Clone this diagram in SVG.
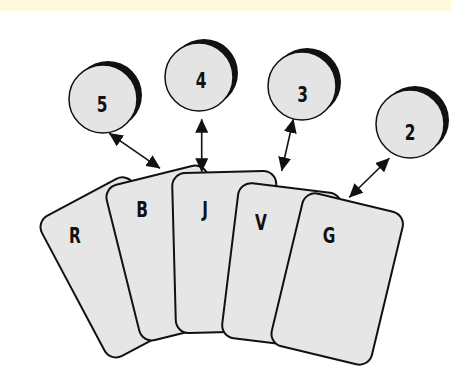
<svg xmlns="http://www.w3.org/2000/svg" width="451" height="390" viewBox="0 0 451 390">
  <defs>
    <style>
      .card { fill: #e6e6e6; stroke: #111; stroke-width: 2; }
      .disc { fill: #e4e4e4; stroke: #111; stroke-width: 1.5; }
      .shade { fill: #111; }
      .lbl { font-family: "DejaVu Sans", "Liberation Sans", sans-serif; font-weight: bold; font-size: 22px; fill: #111; text-anchor: middle; }
      .link { stroke: #111; stroke-width: 1.6; fill: none; marker-start: url(#head); marker-end: url(#head); }
    </style>
    <marker id="head" viewBox="0 0 14 13" refX="13.5" refY="6.5" markerWidth="14" markerHeight="13" markerUnits="userSpaceOnUse" orient="auto-start-reverse">
      <path d="M0,0 L14,6.5 L0,13 Z" fill="#111"/>
    </marker>
  </defs>

  <!-- header band -->
  <rect x="0" y="0" width="451" height="11" fill="#fffadb"/>

  <!-- fanned cards, back to front; labels are narrowed hand-lettering -->
  <g id="card-R">
    <rect class="card" transform="translate(119.2,267.4) rotate(-28)" x="-52" y="-79.5" width="104" height="159" rx="13"/>
    <text class="lbl" transform="translate(75,243) scale(0.7,1)">R</text>
  </g>
  <g id="card-B">
    <rect class="card" transform="translate(173.5,253) rotate(-14)" x="-52" y="-80" width="104" height="160" rx="13"/>
    <text class="lbl" transform="translate(142,216.5) scale(0.7,1)">B</text>
  </g>
  <g id="card-J">
    <rect class="card" transform="translate(226,252) rotate(-1.5)" x="-52" y="-80" width="104" height="160" rx="13"/>
    <text class="lbl" transform="translate(205,216.5) scale(0.7,1)">J</text>
  </g>
  <g id="card-V">
    <rect class="card" transform="translate(281.8,265.5) rotate(7)" x="-52" y="-78" width="104" height="156" rx="13"/>
    <text class="lbl" transform="translate(261,230) scale(0.7,1)">V</text>
  </g>
  <g id="card-G">
    <rect class="card" transform="translate(337.2,279) rotate(13.5)" x="-51.5" y="-78.5" width="103" height="157" rx="13"/>
    <text class="lbl" transform="translate(329,243) scale(0.7,1)">G</text>
  </g>

  <!-- numbered discs with shaded rim -->
  <g id="disc-5">
    <circle class="shade" cx="108" cy="95" r="34"/>
    <circle class="disc" cx="103" cy="99" r="34"/>
    <text class="lbl" transform="translate(102,112) scale(0.7,1)">5</text>
  </g>
  <g id="disc-4">
    <circle class="shade" cx="204" cy="73" r="34"/>
    <circle class="disc" cx="199" cy="77" r="34"/>
    <text class="lbl" transform="translate(201,88) scale(0.7,1)">4</text>
  </g>
  <g id="disc-3">
    <circle class="shade" cx="307" cy="82" r="34"/>
    <circle class="disc" cx="302" cy="86" r="34"/>
    <text class="lbl" transform="translate(302.5,101.5) scale(0.7,1)">3</text>
  </g>
  <g id="disc-2">
    <circle class="shade" cx="415" cy="120" r="34"/>
    <circle class="disc" cx="410" cy="124" r="34"/>
    <text class="lbl" transform="translate(410,140) scale(0.7,1)">2</text>
  </g>

  <!-- double-headed links between discs and cards -->
  <g id="links">
    <line class="link" x1="109.3" y1="133.3" x2="160" y2="168.3"/>
    <line class="link" x1="201.7" y1="119.3" x2="201.7" y2="171.7"/>
    <line class="link" x1="293.3" y1="119.3" x2="281.7" y2="170.7"/>
    <line class="link" x1="389.3" y1="158.3" x2="349.3" y2="197.3"/>
  </g>
</svg>
